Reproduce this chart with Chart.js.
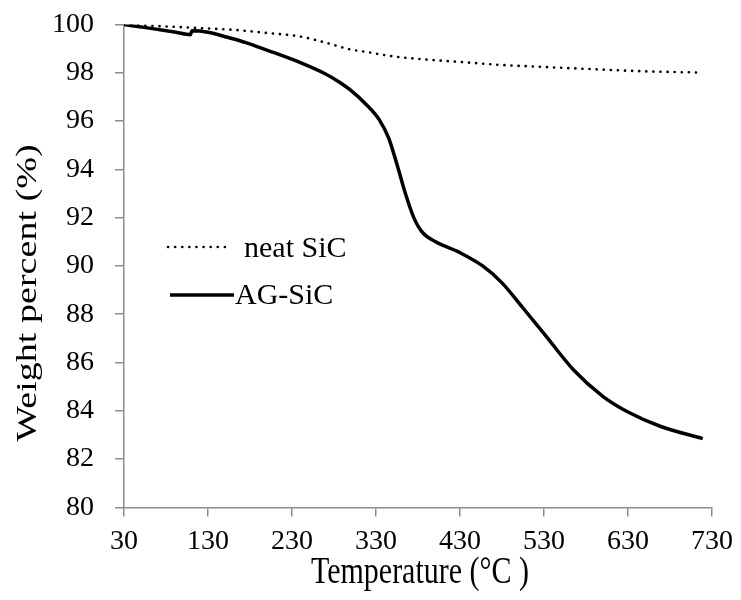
<!DOCTYPE html>
<html>
<head>
<meta charset="UTF-8">
<script src="https://cdn.jsdelivr.net/npm/chart.js"></script>
<style>
  body { margin: 0; background: #fff; }
</style>
</head>
<body>
<canvas id="chart_tga" width="741" height="600"></canvas>
<script>
// temperature (°C) and weight percent (%)
var tempNeat = [30, 80, 121, 160, 200, 240, 270, 299, 319, 350, 382, 430, 477, 530, 595, 650, 716];
var neatSiC  = [100, 99.92, 99.85, 99.78, 99.65, 99.5, 99.25, 98.97, 98.86, 98.68, 98.57, 98.45, 98.33, 98.24, 98.14, 98.06, 98.01];

var tempAG = [30, 60, 92, 109, 111, 130, 153, 175, 200, 240, 270, 287, 299, 318, 334, 345, 355, 365, 375, 385, 401, 430, 457, 480, 504, 530, 565, 600, 630, 669, 719];
var agSiC  = [100, 99.85, 99.68, 99.58, 99.74, 99.68, 99.47, 99.25, 98.94, 98.42, 97.95, 97.6, 97.3, 96.7, 96.05, 95.3, 94.2, 93.0, 92.0, 91.4, 91.0, 90.55, 90.0, 89.3, 88.3, 87.2, 85.7, 84.6, 83.95, 83.35, 82.85];

var xTicks = [30, 130, 230, 330, 430, 530, 630, 730];
var legendNames = ['neat SiC', 'AG-SiC'];
var xTitle = 'Temperature (°C )';
var yTitle = 'Weight percent (%)';

function pts(xs, ys) {
    var out = [];
    for (var i = 0; i < xs.length; i++) out.push({ x: xs[i], y: ys[i] });
    return out;
}

var fontFam = '"Liberation Serif", "Times New Roman", serif';

// legend inside the plot and the two axis titles (the titles in the
// original are drawn a bit taller than normal, so they get a y-stretch)
var extras = {
    id: 'extras',
    afterDraw: function (chart) {
        var ctx = chart.ctx;
        var area = chart.chartArea;
        ctx.save();
        ctx.fillStyle = '#000';
        ctx.strokeStyle = '#000';

        // legend
        var x0 = 168, x1 = 231;
        var rows = [247, 295];
        ctx.lineCap = 'round';
        ctx.lineWidth = 2.6;
        ctx.setLineDash([0.1, 7]);
        ctx.beginPath(); ctx.moveTo(x0, rows[0]); ctx.lineTo(x1, rows[0]); ctx.stroke();
        ctx.setLineDash([]);
        ctx.lineCap = 'butt';
        ctx.lineWidth = 3.5;
        ctx.beginPath(); ctx.moveTo(x0 + 2, rows[1]); ctx.lineTo(x1 + 3, rows[1]); ctx.stroke();
        ctx.font = '30px ' + fontFam;
        ctx.textBaseline = 'alphabetic';
        ctx.fillText(legendNames[0], 244, rows[0] + 10);
        ctx.fillText(legendNames[1], 235, rows[1] + 9);

        // x title
        ctx.textAlign = 'center';
        ctx.save();
        ctx.translate((area.left + area.right) / 2 + 2, 583);
        ctx.scale(1, 1.27);
        ctx.fillText(xTitle, 0, 0);
        ctx.restore();

        // y title
        ctx.save();
        ctx.translate(36, 293);
        ctx.rotate(-Math.PI / 2);
        ctx.scale(1.27, 1);
        ctx.fillText(yTitle, 0, 0);
        ctx.restore();

        ctx.restore();
    }
};

var config_tga = {
    type: 'scatter',
    data: {
        datasets: [{
            label: legendNames[0],
            data: pts(tempNeat, neatSiC),
            showLine: true,
            borderColor: '#000',
            borderWidth: 2.6,
            borderDash: [0.1, 7],
            borderCapStyle: 'round',
            pointRadius: 0,
            cubicInterpolationMode: 'monotone'
        }, {
            label: legendNames[1],
            data: pts(tempAG, agSiC),
            showLine: true,
            borderColor: '#000',
            borderWidth: 3.5,
            pointRadius: 0,
            cubicInterpolationMode: 'monotone'
        }]
    },
    options: {
        responsive: false,
        animation: false,
        layout: { padding: { top: 24.5, right: 7, left: 31, bottom: 34 } },
        plugins: {
            legend: { display: false },
            tooltip: { enabled: false }
        },
        scales: {
            x: {
                type: 'linear',
                min: 30,
                max: 730,
                afterBuildTicks: function (axis) {
                    axis.ticks = xTicks.map(function (v) { return { value: v }; });
                },
                grid: { drawOnChartArea: false, color: '#8c8c8c', tickLength: 9, lineWidth: 1.5 },
                border: { color: '#8c8c8c', width: 1.5 },
                ticks: { color: '#000', font: { family: fontFam, size: 28 }, maxRotation: 0, padding: 8 }
            },
            y: {
                min: 80,
                max: 100,
                afterFit: function (scale) {
                    scale.paddingTop = 0;
                    scale.paddingBottom = 0;
                },
                ticks: { stepSize: 2, color: '#000', font: { family: fontFam, size: 28 }, padding: 21 },
                grid: { drawOnChartArea: false, color: '#8c8c8c', tickLength: 9, lineWidth: 1.5 },
                border: { color: '#8c8c8c', width: 1.5 }
            }
        }
    },
    plugins: [extras]
};

new Chart(document.getElementById('chart_tga'), config_tga);
</script>
</body>
</html>
